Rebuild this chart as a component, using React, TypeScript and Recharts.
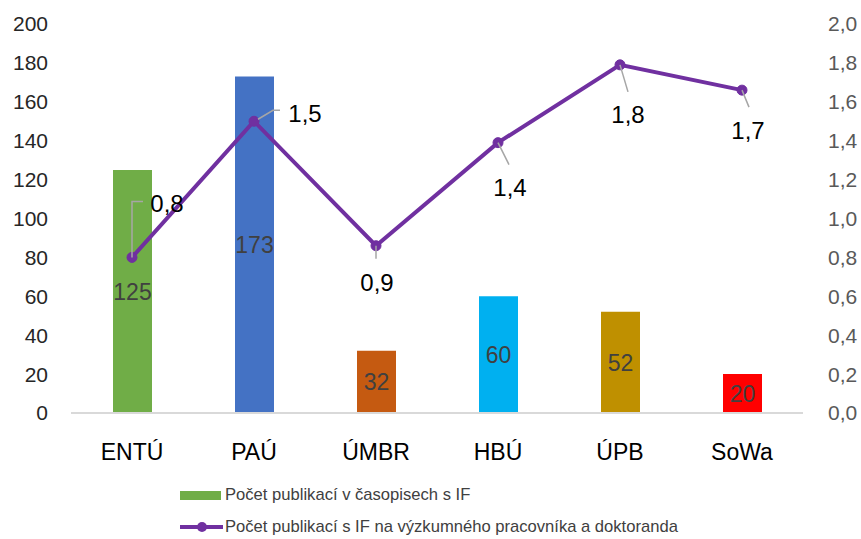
import { ComposedChart, Bar, Line, XAxis, YAxis, Cell, LabelList } from 'recharts'

const CATEGORIES = ['ENTÚ', 'PAÚ', 'ÚMBR', 'HBÚ', 'ÚPB', 'SoWa']
const PUBLICATIONS = [125, 173, 32, 60, 52, 20]
const PER_RESEARCHER = [0.8, 1.5, 0.86, 1.39, 1.79, 1.66]
const LEFT_TICKS = [0, 20, 40, 60, 80, 100, 120, 140, 160, 180, 200]
const RIGHT_TICKS = [0, 0.2, 0.4, 0.6, 0.8, 1.0, 1.2, 1.4, 1.6, 1.8, 2.0]

const BAR_COLORS = ['#70AD47', '#4472C4', '#C55A11', '#00B0F0', '#BF9000', '#FF0000']
const LINE_COLOR = '#7030A0'
const FONT = '"Liberation Sans", Arial, sans-serif'

// label placement for the line values, relative to each point (Excel leader lines)
const LABEL_LAYOUT = [
  { tx: 35, ty: -54, leader: [[0, 0], [0, -56], [11, -56]] },
  { tx: 51, ty: -8, leader: [[4, -2], [19, -11], [26, -11]] },
  { tx: 1, ty: 37, leader: [[0, 0], [0, 13]] },
  { tx: 12, ty: 45, leader: [[0, 0], [11, 22]] },
  { tx: 8, ty: 50, leader: [[0, 0], [8, 27]] },
  { tx: 6, ty: 40, leader: [[0, 0], [7, 17]] },
]

const data = CATEGORIES.map((name, i) => ({
  name,
  count: PUBLICATIONS[i],
  ratio: PER_RESEARCHER[i],
}))

const fmtComma = (v: number) => v.toFixed(1).replace('.', ',')

function LineValueLabel(props: any) {
  const { x, y, index, value } = props
  const layout = LABEL_LAYOUT[index]
  if (!layout || x == null || y == null) return null
  const pts = layout.leader.map(([dx, dy]) => `${x + dx},${y + dy}`).join(' ')
  return (
    <g>
      <polyline points={pts} fill="none" stroke="#A6A6A6" strokeWidth={1.5} />
      <text
        x={x + layout.tx}
        y={y + layout.ty}
        dy="0.35em"
        textAnchor="middle"
        fill="#000000"
        fontSize={24}
        fontFamily={FONT}
      >
        {fmtComma(Number(value))}
      </text>
    </g>
  )
}

export default function App() {
  return (
    <div style={{ position: 'absolute', left: 0, top: 0, width: 861, height: 539, background: '#fff', fontFamily: FONT }}>
      <ComposedChart
        width={861}
        height={539}
        data={data}
        margin={{ top: 24, right: 0, left: 0, bottom: 0 }}
        style={{ fontFamily: FONT }}
      >
        <XAxis
          dataKey="name"
          height={126}
          tickLine={false}
          tickSize={0}
          tickMargin={31}
          axisLine={{ stroke: '#D9D9D9', strokeWidth: 2 }}
          tick={{ fill: '#000000', fontSize: 23 }}
        />
        <YAxis
          yAxisId="left"
          width={71}
          domain={[0, 200]}
          ticks={LEFT_TICKS}
          interval={0}
          axisLine={false}
          tickLine={false}
          tickSize={0}
          tickMargin={23}
          tick={{ fill: '#262626', fontSize: 21 }}
        />
        <YAxis
          yAxisId="right"
          orientation="right"
          width={58}
          domain={[0, 2]}
          ticks={RIGHT_TICKS}
          interval={0}
          axisLine={false}
          tickLine={false}
          tickSize={0}
          tickMargin={25}
          tickFormatter={fmtComma}
          tick={{ fill: '#595959', fontSize: 21, textAnchor: 'start' }}
        />
        <Bar yAxisId="left" dataKey="count" barSize={39} isAnimationActive={false}>
          {data.map((_, i) => (
            <Cell key={i} fill={BAR_COLORS[i]} />
          ))}
          <LabelList
            dataKey="count"
            position="center"
            style={{ fill: '#404040', fontSize: 23, fontFamily: FONT }}
          />
        </Bar>
        <Line
          yAxisId="right"
          dataKey="ratio"
          stroke={LINE_COLOR}
          strokeWidth={4}
          dot={{ r: 5, fill: LINE_COLOR, stroke: LINE_COLOR, strokeWidth: 1 }}
          activeDot={false}
          isAnimationActive={false}
        >
          <LabelList dataKey="ratio" content={LineValueLabel} />
        </Line>
      </ComposedChart>

      {/* legend, Excel style below the plot */}
      <div style={{ position: 'absolute', left: 180, top: 485, fontSize: 16.6, color: '#404040', lineHeight: '20px' }}>
        <div style={{ display: 'flex', alignItems: 'center', height: 20 }}>
          <span style={{ display: 'inline-block', width: 41, height: 9, background: BAR_COLORS[0], marginRight: 4 }} />
          <span>Počet publikací v časopisech s IF</span>
        </div>
        <div style={{ display: 'flex', alignItems: 'center', height: 20, marginTop: 12 }}>
          <svg width={43} height={12} style={{ marginRight: 2 }}>
            <line x1={0} y1={6} x2={43} y2={6} stroke={LINE_COLOR} strokeWidth={4} />
            <circle cx={22} cy={6} r={5} fill={LINE_COLOR} />
          </svg>
          <span>Počet publikací s IF na výzkumného pracovníka a doktoranda</span>
        </div>
      </div>
    </div>
  )
}
